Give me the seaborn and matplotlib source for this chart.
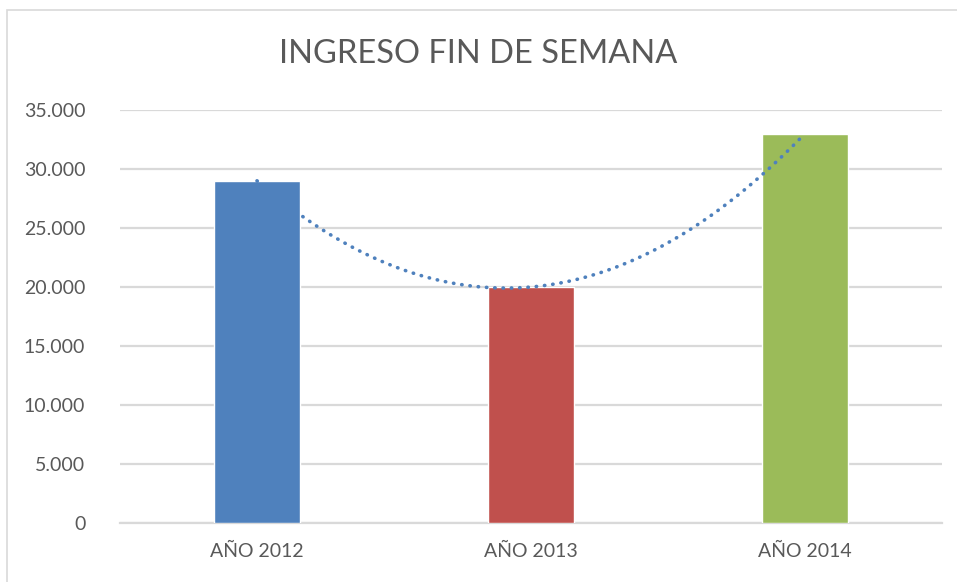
import numpy as np
import pandas as pd
import matplotlib
matplotlib.use("Agg")
import matplotlib.pyplot as plt
import seaborn as sns
from matplotlib.patches import Rectangle

# data
years = ["AÑO 2012", "AÑO 2013", "AÑO 2014"]
ingreso = [29000, 20000, 33000]
bar_colors = ["#4F81BD", "#C0504D", "#9BBB59"]
yticks = [0, 5000, 10000, 15000, 20000, 25000, 30000, 35000]
ytick_labels = ["0", "5.000", "10.000", "15.000", "20.000", "25.000", "30.000", "35.000"]

sns.set_theme(style="white")
plt.rcParams["font.family"] = ["Lato", "DejaVu Sans"]
text_col = "#595959"

df = pd.DataFrame({"anio": years, "ingreso": ingreso})

fig = plt.figure(figsize=(9.57, 5.82), dpi=100)
ax = fig.add_axes([120 / 957, 1 - 523 / 582, 822 / 957, 413 / 582])

sns.barplot(data=df, x="anio", y="ingreso", hue="anio", palette=bar_colors,
            width=0.317, legend=False, ax=ax, zorder=3, saturation=1)

# polynomial trendline (order 2) from the data
pos = np.arange(len(ingreso))
coef = np.polyfit(pos, ingreso, 2)
xs = np.linspace(0, len(ingreso) - 1, 200)
trend = pd.DataFrame({"x": xs, "y": np.polyval(coef, xs)})
sns.lineplot(data=trend, x="x", y="y", ax=ax, color="#4F81BD", lw=2.6,
             linestyle=(0, (0.1, 2.2)), dash_capstyle="round", zorder=4)

ax.set_xlim(-0.5, 2.5)
ax.set_ylim(0, 35000)
ax.set_yticks(yticks)
ax.set_yticklabels(ytick_labels)
ax.set_xlabel("")
ax.set_ylabel("")
ax.grid(axis="y", color="#D9D9D9", lw=1.6, zorder=0)
ax.grid(axis="x", visible=False)
for s in ["top", "right", "left"]:
    ax.spines[s].set_visible(False)
ax.spines["bottom"].set_color("#D9D9D9")
ax.spines["bottom"].set_linewidth(1.6)
ax.tick_params(axis="y", length=0, pad=25, labelsize=14, labelcolor=text_col)
ax.tick_params(axis="x", length=0, pad=14, labelsize=14, labelcolor=text_col)

fig.text(0.5, 1 - 54 / 582, "INGRESO FIN DE SEMANA", ha="center", va="center",
         fontsize=23.5, color=text_col)

# chart border
fig.patches.append(Rectangle((7 / 957, -0.01), 1.0, 1 - 10 / 582 + 0.01,
                             transform=fig.transFigure, fill=False,
                             edgecolor="#D9D9D9", lw=1.2))

fig.savefig("out.png", dpi=100)
